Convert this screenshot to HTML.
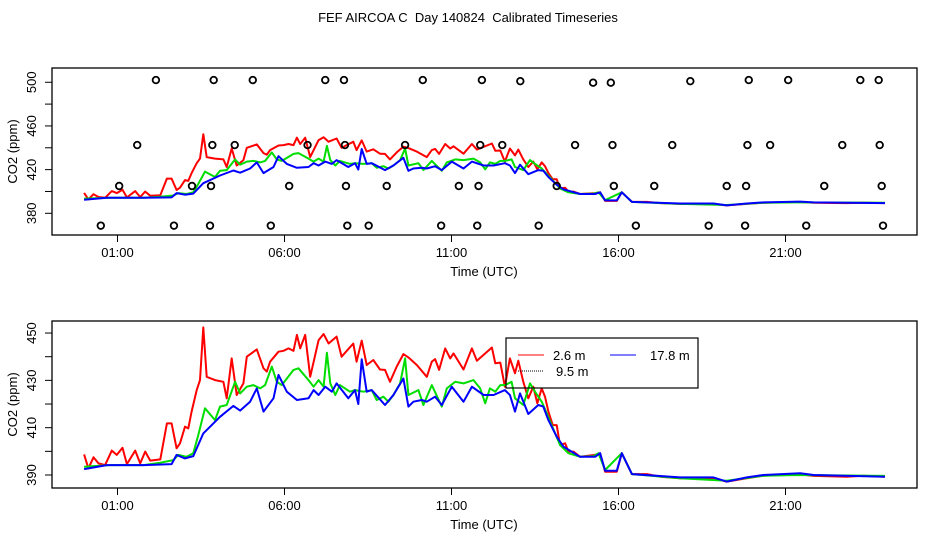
<!DOCTYPE html>
<html><head><meta charset="utf-8"><style>
html,body{margin:0;padding:0;background:#fff;}
svg{display:block;font-family:"Liberation Sans",sans-serif;}
</style></head><body>
<svg id="chart" width="936" height="540" viewBox="0 0 936 540">
<rect width="936" height="540" fill="#fff"/>
<text x="468" y="22" text-anchor="middle" font-size="13">FEF AIRCOA C&#160; Day 140824&#160; Calibrated Timeseries</text>
<g id="top"></g>
<g id="bottom"></g>
</svg>
<script>
const redT=[0.00,0.13,0.28,0.43,0.63,0.83,0.98,1.15,1.28,1.53,1.68,1.83,1.98,2.28,2.48,2.62,2.77,2.87,3.02,3.12,3.22,3.37,3.47,3.57,3.67,3.92,4.17,4.27,4.42,4.57,4.77,4.87,5.17,5.37,5.47,5.57,5.82,5.97,6.12,6.27,6.37,6.47,6.62,6.77,7.02,7.17,7.32,7.56,7.71,8.06,8.16,8.31,8.46,8.66,8.86,9.01,9.16,9.36,9.56,9.71,9.96,10.26,10.41,10.51,10.63,10.81,10.96,11.06,11.36,11.61,11.76,12.21,12.31,12.46,12.60,12.75,12.90,13.00,13.15,13.30,13.45,13.57,13.70,13.80,13.90,14.03,14.15,14.25,14.40,14.50,14.65,14.85,15.30,15.45,15.60,15.95,16.10,16.40,16.85,17.25,17.84,18.84,19.24,19.84,20.34,21.34,21.84,22.83,23.33,23.98];
const redV=[398.7,392.8,397.5,394.9,394.2,400.3,398.5,401.5,394.6,400.3,394.9,399.9,396.1,396.6,411.8,411.8,401.3,403.4,410.4,409.7,416.8,425.9,430.1,452.4,431.5,430.1,429.4,422.4,439.3,423.8,428.7,440.0,443.1,435.1,433.7,437.9,442.1,442.5,443.5,442.5,449.2,443.5,449.2,431.5,447.0,449.6,445.6,448.5,440.0,445.6,437.9,446.8,436.5,438.6,434.6,434.4,429.4,435.8,441.1,439.7,436.5,431.5,437.9,439.0,434.4,443.5,439.3,441.4,434.6,443.5,438.3,443.9,437.2,437.5,427.3,439.3,433.0,438.3,429.4,422.4,427.3,420.3,426.6,423.1,416.8,411.1,411.1,402.7,403.4,399.9,399.9,397.7,398.5,399.2,391.4,391.4,399.2,390.4,390.4,389.3,388.6,388.6,387.2,388.6,389.7,390.4,389.6,389.3,389.7,389.3];
const greenT=[0.00,0.78,1.78,2.28,2.67,2.82,3.07,3.27,3.42,3.62,3.92,4.07,4.27,4.52,4.67,4.87,5.07,5.27,5.42,5.62,5.77,5.92,6.27,6.42,6.72,6.87,7.02,7.17,7.27,7.37,7.52,7.66,7.96,8.11,8.36,8.61,8.76,8.96,9.11,9.26,9.46,9.61,9.71,10.01,10.16,10.41,10.71,10.86,11.11,11.36,11.66,11.86,12.01,12.15,12.31,12.46,12.60,12.80,12.90,13.15,13.35,13.50,13.70,13.85,14.00,14.25,14.50,14.85,15.25,15.40,15.60,16.10,16.40,17.84,19.24,20.34,21.34,23.98];
const greenV=[393.5,394.2,394.2,395.2,396.3,398.5,397.7,399.2,406.9,418.2,413.2,418.9,419.6,429.4,424.5,427.3,428.0,426.6,428.0,435.8,429.4,428.0,434.4,435.1,430.1,427.3,430.1,427.3,441.7,428.7,423.8,428.0,425.2,425.9,425.2,425.9,421.7,423.1,421.0,423.8,428.7,439.3,423.8,425.9,419.6,428.0,418.9,426.6,429.4,428.7,430.1,426.6,420.3,426.6,425.2,428.0,428.0,429.4,422.4,419.6,428.7,425.2,421.0,416.1,411.1,402.7,399.2,397.7,398.0,399.2,392.1,399.2,390.4,388.6,387.6,389.7,390.0,389.6];
const blueT=[0.00,0.68,1.78,2.62,2.77,3.02,3.27,3.57,4.07,4.47,4.67,4.97,5.17,5.37,5.67,5.82,6.07,6.37,6.72,6.87,7.02,7.22,7.42,7.56,7.91,8.11,8.21,8.31,8.46,8.61,9.01,9.26,9.56,9.71,9.86,10.11,10.26,10.51,10.71,11.01,11.36,11.61,11.96,12.26,12.60,12.75,12.90,13.05,13.30,13.60,13.75,13.90,14.15,14.35,14.85,15.30,15.45,15.60,15.95,16.10,16.40,17.84,18.84,19.24,19.84,20.34,21.44,21.84,23.98];
const blueV=[392.5,394.2,394.2,394.6,398.5,397.0,398.0,407.6,414.6,419.2,417.2,421.0,426.6,416.8,422.4,432.3,425.2,421.7,422.4,425.9,423.8,427.3,425.2,428.7,422.4,425.9,420.0,438.9,425.2,425.9,419.6,423.8,430.8,418.9,421.0,421.7,421.0,423.1,419.6,427.3,421.0,427.3,423.8,423.8,425.9,423.8,416.8,424.5,415.8,419.6,418.9,413.2,406.2,402.0,397.7,397.7,399.2,391.8,391.8,399.2,390.4,389.0,389.0,387.2,389.0,390.0,390.7,390.0,389.3];
const calT=[2.15,3.88,5.05,7.22,7.78,10.14,11.91,13.06,15.24,15.77,18.15,19.90,21.08,23.24,23.79,
1.59,3.84,4.51,6.69,7.81,9.61,11.86,12.52,14.70,15.82,17.61,19.86,20.54,22.70,23.82,
1.05,3.23,3.80,6.14,7.84,9.06,11.22,11.81,14.15,15.86,17.07,19.24,19.82,22.16,23.88,
0.50,2.69,3.77,5.59,7.88,8.52,10.69,11.77,13.61,16.52,18.70,19.79,21.62,23.92];
const calV=[502,502,502,502,502,502,502,501,499.6,499.6,501,502,502,502,502,
442.5,442.5,442.5,442.5,442.5,442.5,442.5,442.5,442.5,442.5,442.5,442.5,442.5,442.5,442.5,
405,405,405,405,405,405,405,405,405,405,405,405,405,405,405,
368.7,368.7,368.7,368.7,368.7,368.7,368.7,368.7,368.7,368.7,368.7,368.7,368.7,368.7];
const xTickHours=[1,6,11,16,21];
const xTickLabels=["01:00","06:00","11:00","16:00","21:00"];
const topTicks=[380,400,420,440,460,480,500];
const topTickLabels=["380","420","460","500"];
const botTicks=[390,400,410,420,430,440,450];
const botTickLabels=["390","410","430","450"];

const NS="http://www.w3.org/2000/svg";
function mk(parent,tag,attrs){const e=document.createElementNS(NS,tag);for(const k in attrs)e.setAttribute(k,attrs[k]);parent.appendChild(e);return e;}
const xs=h=>117.5+(h-1)*33.4;

function panel(g,top,bottom,yFn,ticks,labels,withCal,withLegend){
  const L=52,R=917;
  const ax=mk(g,'g',{});
  
  
  mk(ax,'line',{x1:xs(1),x2:xs(21),y1:bottom,y2:bottom,stroke:'#000'});
  xTickHours.forEach((h,i)=>{
    mk(ax,'line',{x1:xs(h),x2:xs(h),y1:bottom,y2:bottom+7,stroke:'#000'});
    const t=mk(ax,'text',{x:xs(h),y:bottom+22,'text-anchor':'middle','font-size':'13'});
    t.textContent=xTickLabels[i];
    
    
  });
  const xt=mk(ax,'text',{x:484,y:bottom+41,'text-anchor':'middle','font-size':'13'});
  xt.textContent='Time (UTC)';
  
  
  const ay=mk(g,'g',{});
  
  
  mk(ay,'line',{x1:L,x2:L,y1:yFn(ticks[0]),y2:yFn(ticks[ticks.length-1]),stroke:'#000'});
  ticks.forEach(v=>mk(ay,'line',{x1:L-7,x2:L,y1:yFn(v),y2:yFn(v),stroke:'#000'}));
  labels.forEach(s=>{
    const y=yFn(+s);
    const t=mk(ay,'text',{x:36,y:y,'text-anchor':'middle','font-size':'13',transform:`rotate(-90 36 ${y})`});
    t.textContent=s;
    
    
  });
  const my=(top+bottom)/2;
  const yt=mk(ay,'text',{x:17,y:my,'text-anchor':'middle','font-size':'13',transform:`rotate(-90 17 ${my})`});
  yt.textContent='CO2 (ppm)';
  
  
  const box=mk(g,'rect',{x:L,y:top,width:R-L,height:bottom-top,fill:'none',stroke:'#000','stroke-width':1.3});
  
  
  const series=[[redT,redV,'#f00','series-2-6m'],[greenT,greenV,'#0d0','series-9-5m'],[blueT,blueV,'#00f','series-17-8m']];
  series.forEach(([T,V,c,n])=>{
    const p=mk(g,'polyline',{points:T.map((h,i)=>xs(h).toFixed(1)+','+yFn(V[i]).toFixed(1)).join(' '),fill:'none',stroke:c,'stroke-width':2,'stroke-linejoin':'round'});
    
    
  });
  if(withCal){
    calT.forEach((h,i)=>{
      const c=mk(g,'circle',{cx:xs(h),cy:yFn(calV[i]),r:3.3,fill:'none',stroke:'#000','stroke-width':1.8});
      
      
    });
  }
  if(withLegend){
    const lg=mk(g,'g',{});
    
    
    mk(lg,'rect',{x:506,y:338,width:192,height:50,fill:'none',stroke:'#000','stroke-width':1.2});
    const ent=[[518,355,'#f00','2.6 m',553,''],[610,355,'#00f','17.8 m',650,''],[518,371,'#000','9.5 m',556,'1,1']];
    ent.forEach(([x,y,c,s,tx,d])=>{
      const e=mk(lg,'g',{});
      
      
      mk(e,'line',{x1:x,x2:x+26,y1:y,y2:y,stroke:c,'stroke-width':1,'stroke-dasharray':d||'none'});
      const t=mk(e,'text',{x:tx,y:y+5,'font-size':'13'});
      t.textContent=s;
    });
  }
}
panel(document.getElementById('top'),68,235,v=>213.3-(v-380)*1.092,topTicks,topTickLabels,true,false);
panel(document.getElementById('bottom'),321,488,v=>475-(v-390)*2.366,botTicks,botTickLabels,false,true);
</script>
</body></html>
